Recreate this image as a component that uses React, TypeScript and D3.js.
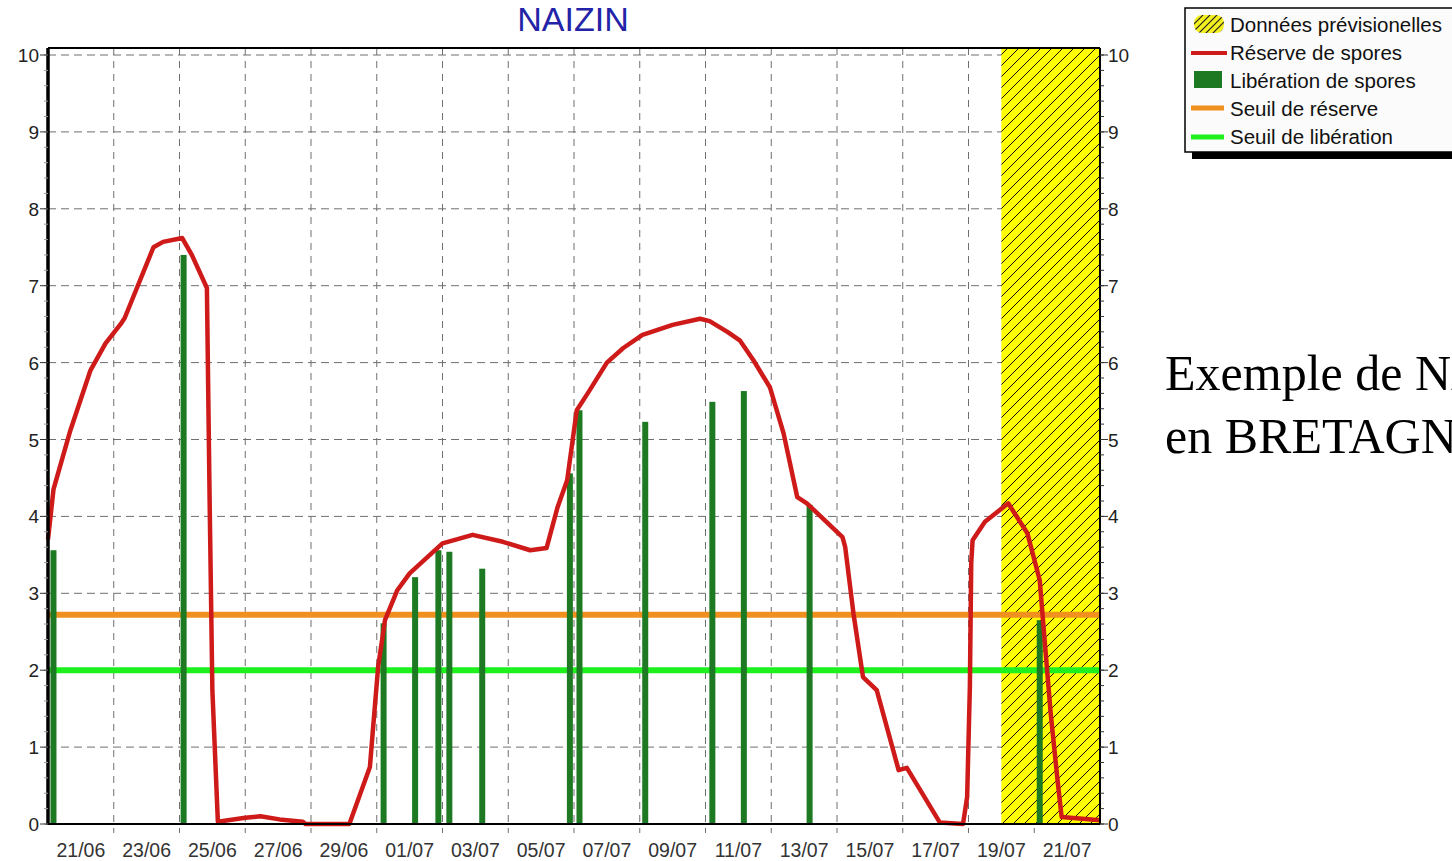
import React from "react";
import * as d3 from "d3";

const W = 1452;
const H = 861;

const reserveTimes = [
  "20/06 00", "20/06 04", "20/06 16", "21/06 07", "21/06 18", "22/06 05", "22/06 08",
  "23/06 05", "23/06 12", "24/06 02", "24/06 09", "24/06 20", "24/06 22", "25/06 00",
  "25/06 04", "26/06 00", "26/06 11", "27/06 01", "27/06 18", "27/06 20", "29/06 04",
  "29/06 19", "29/06 21", "30/06 01", "30/06 06", "30/06 15", "01/07 00", "01/07 13",
  "02/07 00", "02/07 22", "03/07 20", "04/07 16", "05/07 04", "05/07 12", "05/07 19",
  "06/07 02", "06/07 10", "07/07 00", "07/07 12", "08/07 02", "09/07 00", "09/07 20",
  "10/07 03", "10/07 16", "11/07 01", "11/07 11", "11/07 23", "12/07 09", "12/07 19",
  "13/07 02", "14/07 04", "14/07 06", "14/07 12", "14/07 19", "15/07 05", "15/07 21",
  "16/07 03", "17/07 03", "17/07 20", "17/07 23", "18/07 01", "18/07 02", "18/07 03",
  "18/07 12", "19/07 05", "19/07 19", "20/07 04", "20/07 08", "20/07 12", "20/07 17",
  "20/07 20", "22/07 00",
];
const reserveValues = [
  3.7, 4.35, 5.1, 5.9, 6.25, 6.5, 6.58,
  7.5, 7.57, 7.62, 7.4, 6.97, 4.2, 1.74,
  0.03, 0.08, 0.1, 0.06, 0.03, 0, 0,
  0.74, 1.18, 2.04, 2.65, 3.04, 3.26, 3.47,
  3.65, 3.76, 3.67, 3.56, 3.59, 4.12, 4.47,
  5.38, 5.6, 6.0, 6.19, 6.36, 6.49, 6.57,
  6.54, 6.4, 6.29, 6.03, 5.68, 5.08, 4.25,
  4.17, 3.73, 3.6, 2.74, 1.91, 1.74, 0.7,
  0.73, 0.02, 0, 0.35, 1.78, 3.4, 3.69,
  3.93, 4.17, 3.78, 3.17, 2.3, 1.44, 0.57,
  0.09, 0.05,
];

// Libération de spores (barres vertes)
const releaseTimes = [
  "20/06 04", "24/06 03", "30/06 05", "01/07 04", "01/07 21", "02/07 05", "03/07 05",
  "05/07 21", "06/07 04", "08/07 04", "10/07 05", "11/07 04", "13/07 04", "20/07 04",
];
const releaseValues = [3.56, 7.4, 2.61, 3.21, 3.56, 3.54, 3.32, 4.56, 5.38, 5.23, 5.49, 5.63, 4.15, 2.65];

const seuilReserve = 2.72;
const seuilLiberation = 2.0;

const periodStart = "20/06 00";
const periodEnd = "22/07 00";
const forecastStart = "19/07 00";

const xTickLabels = [
  "21/06", "23/06", "25/06", "27/06", "29/06", "01/07", "03/07", "05/07",
  "07/07", "09/07", "11/07", "13/07", "15/07", "17/07", "19/07", "21/07",
];
const yTicks = [0, 1, 2, 3, 4, 5, 6, 7, 8, 9, 10];

const legendLabels = [
  "Données prévisionelles",
  "Réserve de spores",
  "Libération de spores",
  "Seuil de réserve",
  "Seuil de libération",
];

const title = "NAIZIN";
const sideText = ["Exemple de NAIZIN", "en BRETAGNE"];

const RED = "#cf1a1a";
const DARKGREEN = "#1e7a22";
const ORANGE = "#f0901e";
const LIME = "#1ef01e";

const parseT = d3.timeParse("%d/%m %H");

export default function App() {
  const left = 48, right = 1100, top = 48, bottom = 824;
  const x = d3.scaleTime().domain([parseT(periodStart)!, parseT(periodEnd)!]).range([left, right]);
  const y = d3.scaleLinear().domain([0, 10]).range([bottom, 55]);

  const reserve = reserveTimes.map((t, i) => ({ t: parseT(t)!, v: reserveValues[i] }));
  const releases = releaseTimes.map((t, i) => ({ t: parseT(t)!, v: releaseValues[i] }));

  const line = d3
    .line<{ t: Date; v: number }>()
    .x((d) => x(d.t))
    .y((d) => y(d.v));

  const days = d3.timeDay.range(parseT(periodStart)!, parseT(periodEnd)!);
  const gridDays = days.filter((d, i) => i > 0 && i % 2 === 0);
  const minorY = d3.range(0, 10.01, 0.2);
  const xf = x(parseT(forecastStart)!);

  const font = "'Liberation Sans', Arial, sans-serif";

  return (
    <svg width={W} height={H} style={{ position: "absolute", left: 0, top: 0, background: "#fff" }}>
      <defs>
        <pattern id="hatch" width={11} height={11} patternUnits="userSpaceOnUse">
          <rect width={11} height={11} fill="#ffff00" />
          <path d="M0,11 L11,0 M-2,2 L2,-2 M9,13 L13,9" stroke="#111" strokeWidth={1} />
        </pattern>
        <pattern id="hatchSmall" width={7} height={7} patternUnits="userSpaceOnUse">
          <rect width={7} height={7} fill="#f4f020" />
          <path d="M0,7 L7,0 M-2,2 L2,-2 M5,9 L9,5" stroke="#222" strokeWidth={1.2} />
        </pattern>
      </defs>

      {/* titre */}
      <text x={573} y={31} textAnchor="middle" fontFamily={font} fontSize={34} fill="#2323a8">
        {title}
      </text>

      {/* grille */}
      {yTicks.map((v) => (
        <line key={"gy" + v} x1={left} x2={right} y1={y(v)} y2={y(v)} stroke="#6f6f6f" strokeDasharray="8 5" />
      ))}
      {gridDays.map((d, i) => (
        <line key={"gx" + i} x1={x(d)} x2={x(d)} y1={top} y2={bottom + 9} stroke="#6f6f6f" strokeDasharray="7 6" />
      ))}

      {/* zone prévisionnelle */}
      <rect x={xf} y={top} width={right - xf} height={bottom - top} fill="url(#hatch)" />

      {/* seuils */}
      <line x1={left} x2={right} y1={y(seuilReserve)} y2={y(seuilReserve)} stroke={ORANGE} strokeWidth={6} />
      <line x1={left} x2={right} y1={y(seuilLiberation)} y2={y(seuilLiberation)} stroke={LIME} strokeWidth={6} />

      {/* libération */}
      {releases.map((d, i) => (
        <rect key={"b" + i} x={x(d.t) - 3} y={y(d.v)} width={6} height={y(0) - y(d.v)} fill={DARKGREEN} />
      ))}

      {/* réserve */}
      <path d={line(reserve) ?? ""} fill="none" stroke={RED} strokeWidth={4.5} strokeLinejoin="round" />

      {/* cadre et axes */}
      <line x1={left} x2={right} y1={top} y2={top} stroke="#000" strokeWidth={2} />
      <line x1={left} x2={right} y1={bottom} y2={bottom} stroke="#000" strokeWidth={2} />
      <line x1={right} x2={right} y1={top} y2={bottom} stroke="#000" strokeWidth={2} />
      <line x1={left} x2={left} y1={top} y2={bottom + 1} stroke="#000" strokeWidth={3.5} />

      {minorY.map((v, i) => (
        <g key={"my" + i}>
          <line x1={right} x2={right + 4} y1={y(v)} y2={y(v)} stroke="#333" />
          <line x1={left - 4} x2={left} y1={y(v)} y2={y(v)} stroke="#999" />
        </g>
      ))}
      {yTicks.map((v) => (
        <g key={"ty" + v} fontFamily={font} fontSize={19} fill="#222">
          <line x1={left - 8} x2={left} y1={y(v)} y2={y(v)} stroke="#333" />
          <line x1={right} x2={right + 8} y1={y(v)} y2={y(v)} stroke="#333" />
          <text x={39} y={y(v) + 7} textAnchor="end">{v}</text>
          <text x={1108} y={y(v) + 7} textAnchor="start">{v}</text>
        </g>
      ))}
      {xTickLabels.map((l) => (
        <text key={l} x={x(parseT(l + " 00")!)} y={857} textAnchor="middle" fontFamily={font} fontSize={19.5} fill="#333">
          {l}
        </text>
      ))}

      {/* légende */}
      <rect x={1192} y={152} width={280} height={7} fill="#000" />
      <rect x={1185} y={8} width={290} height={144} fill="#fbfbfb" stroke="#000" strokeWidth={1.5} />
      <rect x={1194} y={15} width={30} height={18} rx={8} fill="url(#hatchSmall)" />
      <line x1={1191} x2={1227} y1={53} y2={53} stroke={RED} strokeWidth={4} />
      <rect x={1194} y={71} width={28} height={17} fill={DARKGREEN} />
      <line x1={1191} x2={1224} y1={108} y2={108} stroke={ORANGE} strokeWidth={5} />
      <line x1={1191} x2={1224} y1={137} y2={137} stroke={LIME} strokeWidth={5} />
      {legendLabels.map((l, i) => (
        <text key={l} x={1230} y={32 + i * 28} fontFamily={font} fontSize={20.5} fill="#111">
          {l}
        </text>
      ))}

      {/* texte de la diapositive, coupé par le bord comme dans l'original */}
      {sideText.map((s, i) => (
        <text key={s} x={1165} y={390 + i * 63} fontFamily="'Liberation Serif', 'Times New Roman', serif" fontSize={50} fill="#000">
          {s}
        </text>
      ))}
    </svg>
  );
}
